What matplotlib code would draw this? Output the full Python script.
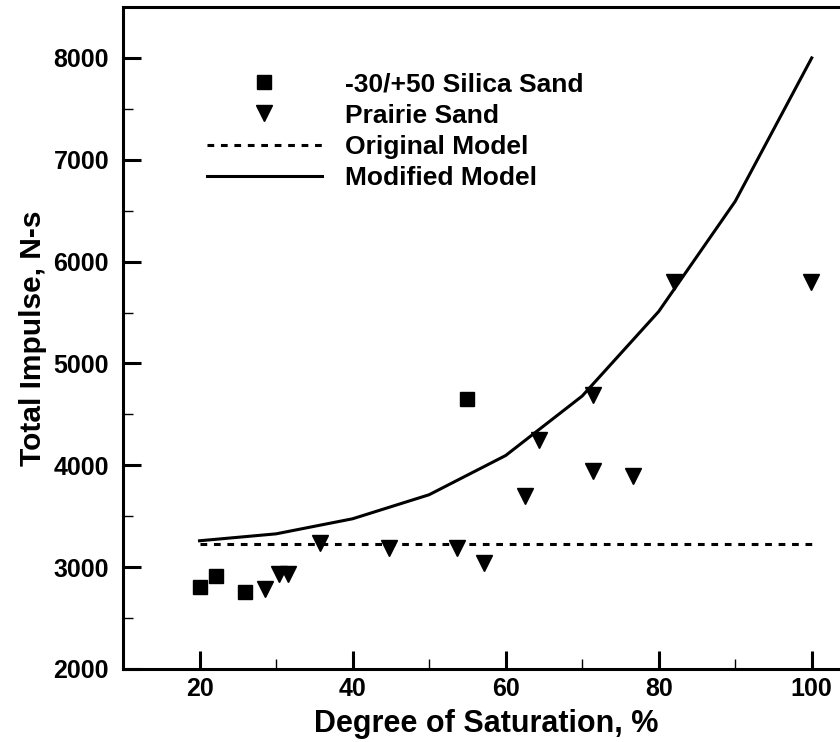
import matplotlib
matplotlib.use("Agg")
import matplotlib.pyplot as plt
from matplotlib.ticker import MultipleLocator

plt.rcParams['font.family'] = ['Liberation Sans', 'DejaVu Sans']
plt.rcParams['font.weight'] = 'bold'

# Data
silica_sat = [20.0, 22.1, 26.0, 55.0]
silica_imp = [2810, 2915, 2760, 4655]

prairie_sat = [28.6, 30.4, 31.5, 35.7, 44.7, 53.6, 57.2, 62.5, 64.3, 71.4, 71.4, 76.6, 82.0, 99.9]
prairie_imp = [2787, 2934, 2934, 3236, 3190, 3190, 3039, 3694, 4245, 3944, 4694, 3895, 5795, 5795]

orig_sat = [20, 100]
orig_imp = [3229, 3229]

mod_sat = [20, 30, 40, 50, 60, 70, 80, 90, 100]
mod_imp = [3259, 3327, 3475, 3711, 4096, 4680, 5510, 6592, 8000]

fig = plt.figure(figsize=(8.4, 7.42), dpi=100)
ax = fig.add_axes([123 / 840, 1 - 669 / 742, 727 / 840, 662 / 742])

ax.plot(silica_sat, silica_imp, 's', color='black', ms=10, label='-30/+50 Silica Sand')
ax.plot(prairie_sat, prairie_imp, 'v', color='black', ms=12, label='Prairie Sand')
ax.plot(orig_sat, orig_imp, color='black', lw=2.2, ls=(0, (2.2, 2.2)), label='Original Model')
ax.plot(mod_sat, mod_imp, color='black', lw=2.2, label='Modified Model')

ax.set_xlim(10, 105)
ax.set_ylim(2000, 8500)
ax.xaxis.set_major_locator(MultipleLocator(20))
ax.xaxis.set_minor_locator(MultipleLocator(10))
ax.yaxis.set_major_locator(MultipleLocator(1000))
ax.yaxis.set_minor_locator(MultipleLocator(500))
ax.tick_params(which='major', direction='in', length=13, width=2.2, labelsize=18, pad=10)
ax.tick_params(axis='x', which='major', pad=6)
ax.tick_params(which='minor', direction='in', length=7, width=1)
for lab in ax.get_xticklabels() + ax.get_yticklabels():
    lab.set_fontweight('bold')
for s in ax.spines.values():
    s.set_linewidth(2.2)
ax.spines['right'].set_visible(False)

ax.set_xlabel('Degree of Saturation, %', fontsize=22, fontweight='bold')
ax.xaxis.set_label_coords(0.5, -0.060)
ax.set_ylabel('Total Impulse, N-s', fontsize=21.5, fontweight='bold', labelpad=4.5)

ax.legend(loc='upper left', bbox_to_anchor=(0.1155, 0.901), frameon=False, fontsize=19,
          handlelength=4.36, handletextpad=0.87, labelspacing=0.27, borderaxespad=0,
          borderpad=0)

fig.savefig('out.png', dpi=100)
